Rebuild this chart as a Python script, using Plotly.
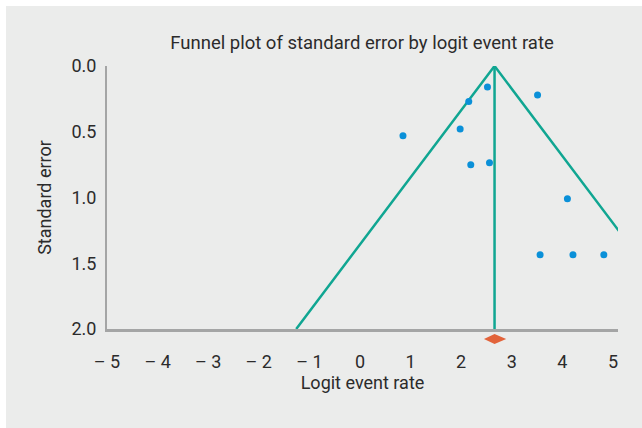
import plotly.graph_objects as go

# Study-level data (logit event rate, standard error)
logit_rate = [0.85, 2.15, 2.52, 3.51, 1.98, 2.19, 2.56, 4.10, 3.56, 4.21, 4.82]
std_error = [0.53, 0.27, 0.16, 0.22, 0.48, 0.75, 0.735, 1.01, 1.435, 1.435, 1.435]

# Pooled estimate and its 95% CI
pooled = 2.66
pooled_lo = 2.45
pooled_hi = 2.89
se_max = 2.0

x_ticks = [-5, -4, -3, -2, -1, 0, 1, 2, 3, 4, 5]
x_tick_text = ["– 5", "– 4", "– 3", "– 2", "– 1", "0", "1", "2", "3", "4", "5"]
y_ticks = [0.0, 0.5, 1.0, 1.5, 2.0]
y_tick_text = ["0.0", "0.5", "1.0", "1.5", "2.0"]

TEAL = "#10a692"
BLUE = "#0a90d8"
ORANGE = "#e2633a"
AXIS = "#a4a5a5"
BG = "#ebeceb"
TXT = "#2b2b2b"
FONT = "Roboto, Liberation Sans, sans-serif"

W, H = 642, 428
L, R, T, B = 107, 24, 66, 99
pw, ph = W - L - R, H - T - B

fig = go.Figure()

# Funnel (pseudo 95% limits)
fig.add_trace(go.Scatter(
    x=[pooled - 1.96 * se_max, pooled, pooled + 1.96 * se_max],
    y=[se_max, 0, se_max],
    mode="lines", line=dict(color=TEAL, width=2.5), hoverinfo="skip", showlegend=False))
# Pooled estimate line
fig.add_trace(go.Scatter(
    x=[pooled, pooled], y=[0, se_max],
    mode="lines", line=dict(color=TEAL, width=2.5), hoverinfo="skip", showlegend=False))
# Studies
fig.add_trace(go.Scatter(
    x=logit_rate, y=std_error, mode="markers",
    marker=dict(color=BLUE, size=7), showlegend=False))

# Background panel (grey area with thin white border at top/left)
fig.add_shape(type="rect", xref="paper", yref="paper",
              x0=(6 - L) / pw, x1=(W + 10 - L) / pw,
              y0=-(H + 10 - (T + ph)) / ph, y1=(T + ph - 6) / ph,
              fillcolor=BG, line=dict(width=0), layer="below")

# Pooled CI diamond below the axis
dy_c = -10 / ph
dh = 5 / ph
fig.add_shape(type="path", xref="x", yref="paper",
              path=f"M {pooled_lo},{dy_c} L {pooled},{dy_c + dh} L {pooled_hi},{dy_c} L {pooled},{dy_c - dh} Z",
              fillcolor=ORANGE, line=dict(width=0))

fig.update_layout(
    width=W, height=H,
    margin=dict(l=L, r=R, t=T, b=B),
    paper_bgcolor="white", plot_bgcolor="rgba(0,0,0,0)",
    font=dict(family=FONT, color=TXT, size=18),
    title=dict(text="Funnel plot of standard error by logit event rate",
               x=(362 - L) / pw, xref="paper", xanchor="center",
               y=1 - 43 / H, yanchor="middle", font=dict(size=18.5, color=TXT)),
    xaxis=dict(range=[-5, 5.1], tickvals=x_ticks, ticktext=x_tick_text,
               showgrid=False, zeroline=False, showline=True, linecolor=AXIS, linewidth=2.5,
               ticks="outside", ticklen=15, tickcolor="rgba(0,0,0,0)",
               tickfont=dict(size=18, color=TXT),
               title=dict(text="Logit event rate", standoff=6, font=dict(size=18, color=TXT))),
    yaxis=dict(range=[2.0, 0.0], tickvals=y_ticks, ticktext=y_tick_text,
               showgrid=False, zeroline=False, showline=True, linecolor=AXIS, linewidth=2,
               ticks="outside", ticklen=5, tickcolor="rgba(0,0,0,0)",
               tickfont=dict(size=18, color=TXT),
               title=dict(text="Standard error", standoff=15, font=dict(size=18, color=TXT))),
)

fig.write_html("out.html", config={"displayModeBar": False},
               post_script="document.body.style.margin='0px';document.body.style.overflow='hidden';")
